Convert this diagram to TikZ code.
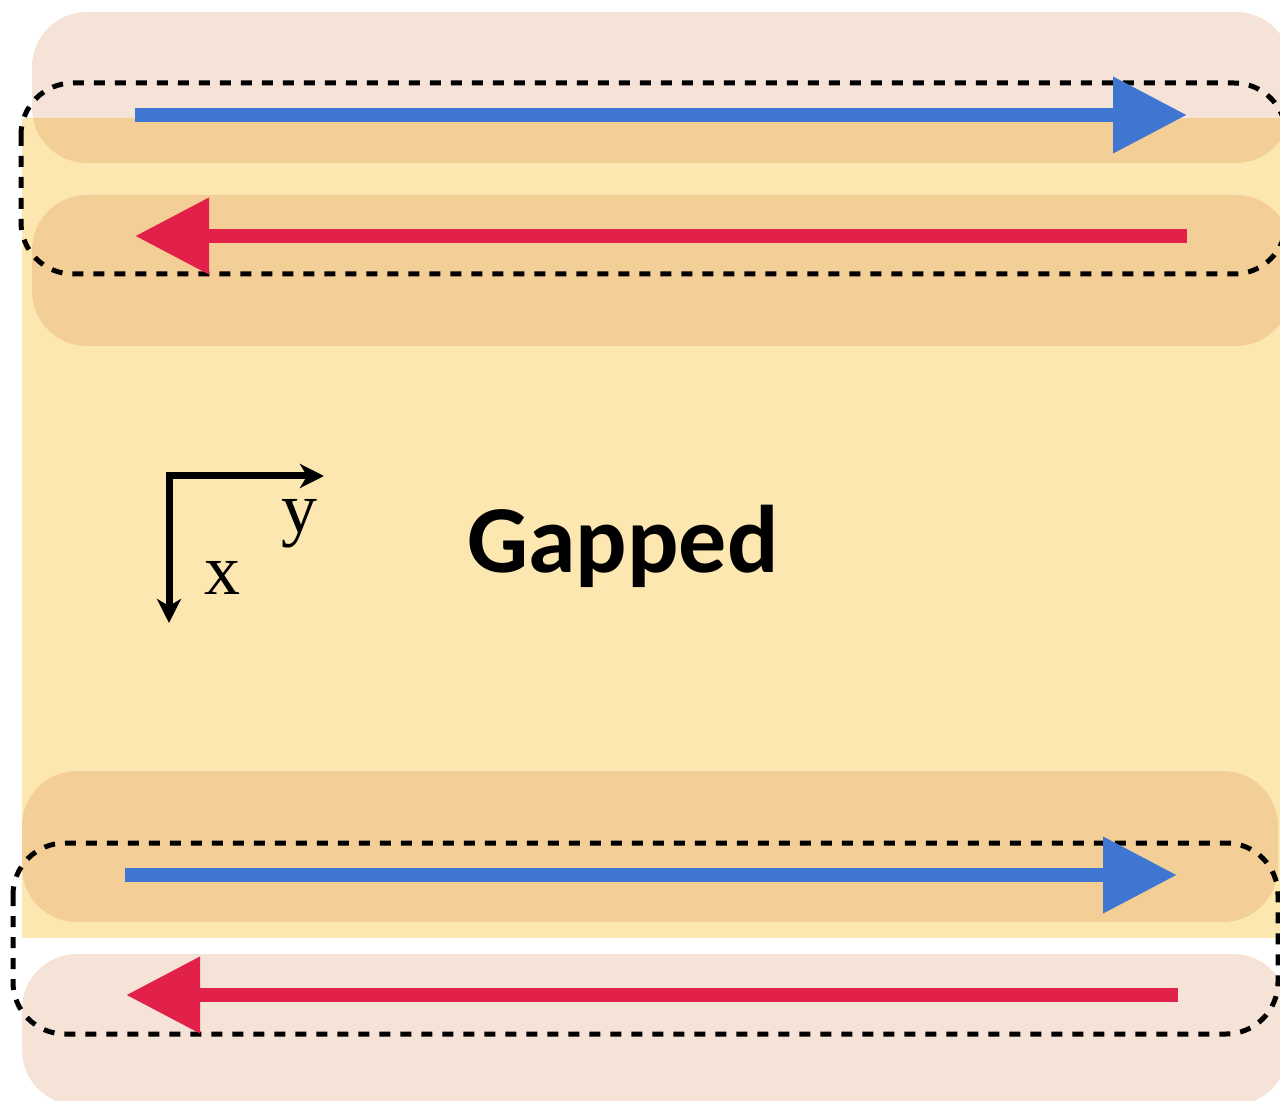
\documentclass[tikz,border=0pt]{standalone}
\usepackage{fontspec}
\setmainfont{Liberation Serif}
\newfontfamily\calibri{Carlito}
\usetikzlibrary{arrows.meta}
\definecolor{bandyellow}{HTML}{FDE7B0}
\definecolor{edgebrown}{RGB}{200,100,39}
\definecolor{upblue}{HTML}{3F76D1}
\definecolor{downred}{HTML}{E2214A}
\begin{document}
\begin{tikzpicture}[x=0.5pt, y=-0.5pt,
    edge/.style={fill=edgebrown, fill opacity=0.18, rounded corners=27.5pt},
    loopline/.style={draw=black, line width=2.5pt, dash pattern=on 5.5pt off 5pt, rounded corners=26pt},
    mover/.style={line width=7pt, -{Triangle[length=37pt,width=36.5pt]}},
    axis/.style={line width=3.5pt, -{Stealth[length=12pt,width=12pt,inset=3.5pt]}}]
    \useasboundingbox (0,0) rectangle (1280,1101);
    \begin{scope}
        \clip (0,0) rectangle (1280,1101);
        % bulk and edge channels
        \fill[bandyellow] (22,118) rectangle (1290,938);
        \fill[edge] (32,12) rectangle (1291,163);
        \fill[edge] (32,195) rectangle (1291,346);
        \fill[edge] (22,771) rectangle (1278,922);
        \fill[edge] (22,954) rectangle (1288,1105);
        % dashed loops
        \draw[loopline] (21,83) rectangle (1286,274);
        \draw[loopline] (13,843) rectangle (1278,1034);
    \end{scope}
    % edge currents
    \coordinate (topR) at (1187,115);
    \coordinate (topL) at (135,115);
    \coordinate (upR) at (1187,236);
    \coordinate (upL) at (135,236);
    \coordinate (lowR) at (1177,875);
    \coordinate (lowL) at (125,875);
    \coordinate (botR) at (1178,995);
    \coordinate (botL) at (126,995);
    \draw[mover, upblue] (topL) -- (topR);
    \draw[mover, downred] (upR) -- (upL);
    \draw[mover, upblue] (lowL) -- (lowR);
    \draw[mover, downred] (botR) -- (botL);
    % axes
    \coordinate (origin) at (169,476);
    \coordinate (yend) at (324,476);
    \coordinate (xend) at (169,623);
    \draw[axis] ([xshift=-1.75pt]origin) -- (yend);
    \draw[axis] (origin) -- (xend);
    \node[anchor=base, inner sep=0pt, font=\fontsize{36}{40}\selectfont] (ylabel) at (299,532) {y};
    \node[anchor=base, inner sep=0pt, font=\fontsize{36}{40}\selectfont] (xlabel) at (222,595) {x};
    \node[anchor=base, inner sep=0pt, font=\calibri\bfseries\fontsize{48}{56}\selectfont] (phase) at (623,572) {Gapped};
\end{tikzpicture}
\end{document}
